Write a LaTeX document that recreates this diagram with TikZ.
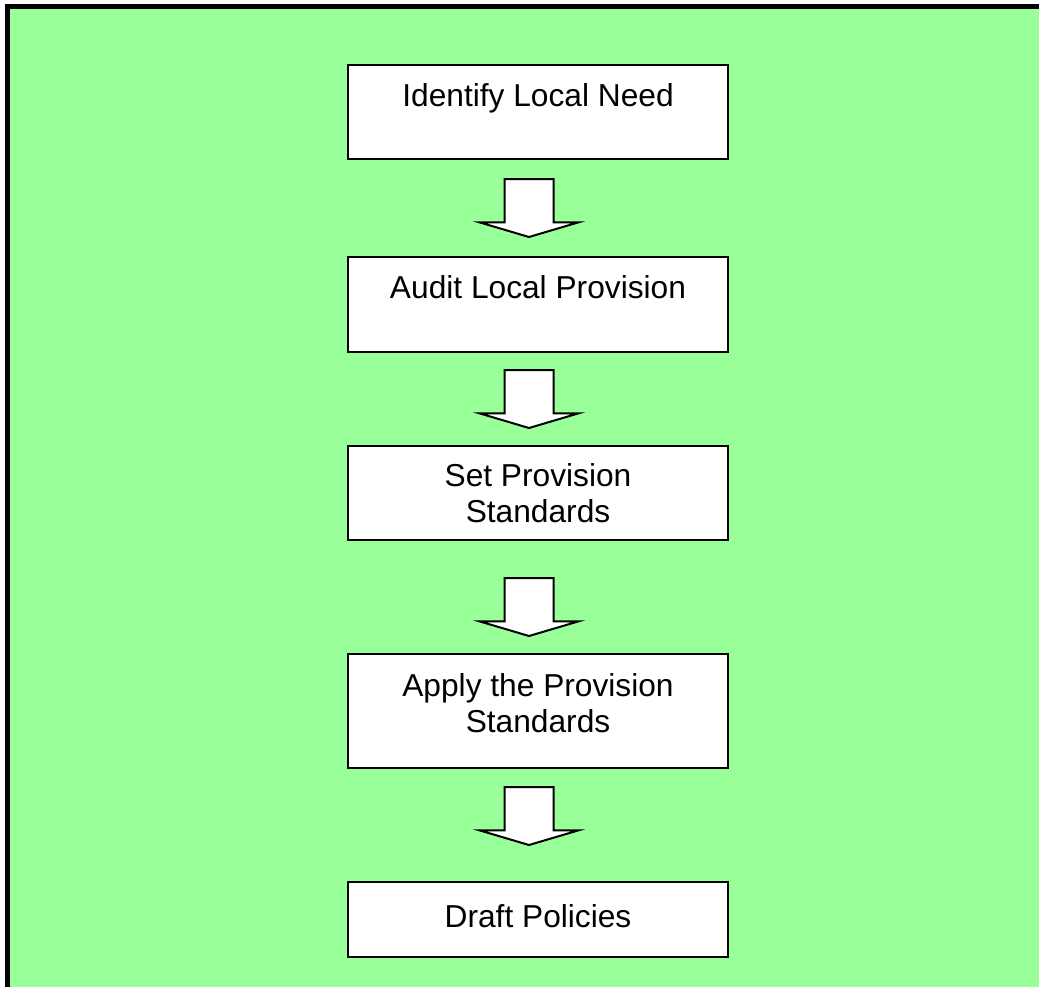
\documentclass[tikz,border=0pt]{standalone}
\usepackage{fontspec}
\setmainfont{Liberation Sans}
\definecolor{panelgreen}{HTML}{99FF99}
\usetikzlibrary{shapes.arrows}

\begin{document}
\begin{tikzpicture}[
  x=1pt, y=-1pt,
  frame/.style={draw=black, line width=5pt, fill=panelgreen},
  stage/.style={draw=black, line width=2pt, fill=white, anchor=north, minimum width=380pt, inner xsep=0pt, inner ysep=0pt, align=center, font=\fontsize{31.7}{36}\selectfont},
  down/.style={draw=black, line width=2pt, fill=white, single arrow, rotate=-90, anchor=tail, inner xsep=0pt, inner ysep=23.5pt, minimum height=58pt, single arrow head extend=24.5pt, single arrow tip angle=147}
]
  \useasboundingbox (0,0) rectangle (1039,986);

  % Panel (rechts und unten abgeschnitten)
  \draw[frame] (7.5,6.5) rectangle (1060,1010);

  % Stufen
  \node[stage, text height=41pt, text depth=53pt] (need)   at (538,64)  {Identify Local Need};
  \node[stage, text height=41pt, text depth=54pt] (audit)  at (538,256) {Audit Local Provision};
  \node[stage, text height=76pt, text depth=18pt] (setstd) at (538,445) {Set Provision\\Standards};
  \node[stage, text height=78pt, text depth=36pt] (apply)  at (538,653) {Apply the Provision\\Standards};
  \node[stage, text height=45pt, text depth=30pt] (draft)  at (538,881) {Draft Policies};

  % Blockpfeile
  \node[down] (a1) at (529,178) {};
  \node[down] (a2) at (529,369) {};
  \node[down] (a3) at (529,577) {};
  \node[down] (a4) at (529,786) {};
\end{tikzpicture}
\end{document}
